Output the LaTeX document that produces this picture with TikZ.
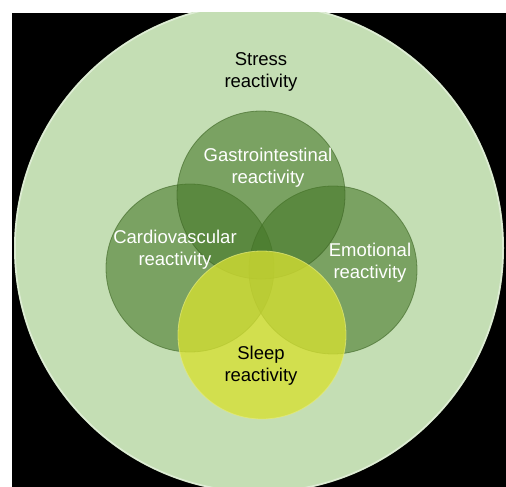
\documentclass[tikz,border=0pt]{standalone}
\usepackage{fontspec}
\setmainfont{Liberation Sans}
\definecolor{stressfill}{RGB}{196,222,180}
\definecolor{bubblefill}{RGB}{70,120,40}
\definecolor{bubbleline}{RGB}{60,100,35}
\definecolor{sleepfill}{RGB}{214,224,50}
\definecolor{sleepline}{RGB}{230,235,120}
\begin{document}
\begin{tikzpicture}[x=1pt,y=-1pt,
      bubble/.style={circle,inner sep=0,minimum size=168pt,fill=bubblefill,fill opacity=0.58,
        draw=bubbleline,draw opacity=0.6,line width=0.8pt},
      sleepbubble/.style={bubble,fill=sleepfill,fill opacity=0.78,draw=sleepline,draw opacity=0.7},
      lbl/.style={align=center,text=white,font=\fontsize{18.5}{22}\selectfont,inner sep=0}]
      \useasboundingbox(0,0)rectangle(506,487);
      \fill[black](12,13)rectangle(506,487);
      \begin{scope}
        \clip(12,13)rectangle(506,487);
        \fill[stressfill](259,248)circle(245pt);
        \draw[white,draw opacity=0.45,line width=1.5pt](259,248)circle(244pt);
      \end{scope}
      \node[bubble](cv)at(190,268){};
      \node[bubble](em)at(333,270){};
      \node[bubble](gi)at(261,195){};
      \node[sleepbubble](sl)at(262,335){};
      \node[lbl,text=black](stressLbl)at(261,72){Stress\\reactivity};
      \node[lbl](giLbl)at(268,168){Gastrointestinal\\reactivity};
      \node[lbl](cvLbl)at(175,250){Cardiovascular\\reactivity};
      \node[lbl](emLbl)at(370,263){Emotional\\reactivity};
      \node[lbl,text=black](slLbl)at(261,366){Sleep\\reactivity};
\end{tikzpicture}
\end{document}
